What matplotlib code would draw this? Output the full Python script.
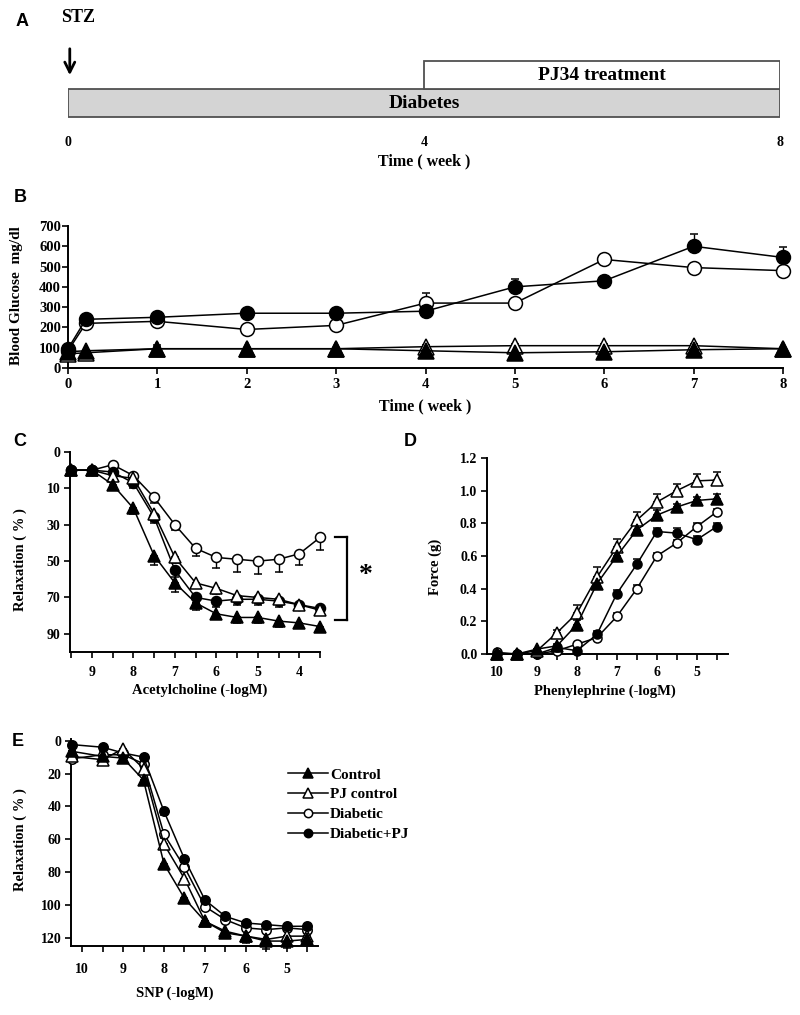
import matplotlib
matplotlib.use('Agg')
import matplotlib.pyplot as plt
import numpy as np
from matplotlib.patches import Rectangle
from matplotlib.lines import Line2D

plt.rcParams['font.family'] = ['Liberation Serif', 'DejaVu Serif']
plt.rcParams['font.weight'] = 'bold'
plt.rcParams['axes.labelweight'] = 'bold'

# ---------------- data ----------------
phase_names = ["Diabetes", "PJ34 treatment"]
phase_start = [0, 4]
phase_end = [8, 8]
timeline_ticks = [0, 4, 8]

weeks = [0, 0.2, 1, 2, 3, 4, 5, 6, 7, 8]
glu_control = [80, 85, 95, 95, 95, 85, 75, 80, 90, 95]
glu_pjcontrol = [70, 75, 95, 95, 95, 105, 110, 110, 110, 95]
glu_diabetic = [85, 220, 230, 190, 210, 320, 320, 535, 495, 480]
glu_diabpj = [95, 240, 250, 270, 270, 280, 400, 430, 600, 545]
glu_err_control = [0, 5, 20, 5, 5, 5, 5, 5, 5, 5]
glu_err_pjcontrol = [0, 5, 10, 5, 5, 10, 10, 10, 10, 5]
glu_err_diabetic = [0, 10, 15, 10, 15, 50, 20, 15, 15, 15]
glu_err_diabpj = [0, 10, 10, 10, 10, 15, 40, 15, 60, 50]

ach_dose = [9.5, 9.0, 8.5, 8.0, 7.5, 7.0, 6.5, 6.0, 5.5, 5.0, 4.5, 4.0, 3.5]
ach_control = [0, 0, 8, 21, 47, 62, 73, 79, 81, 81, 83, 84, 86]
ach_pjcontrol = [0, 0, 3, 4.5, 24, 48, 62, 65, 69, 70, 71, 74, 77]
ach_diabetic = [0, 0, -3, 3, 15, 30, 43, 48, 49, 50, 49, 46, 37]
ach_diabpj = [0, 0, 1, 7, 26, 55, 70, 72, 71, 71, 72, 74, 76]
ach_err_control = [0, 2, 2, 3, 5, 5, 4, 3, 3, 3, 3, 2, 2]
ach_err_pjcontrol = [0, 2, 2, 4, 4, 3, 3, 3, 3, 3, 2, 2, 2]
ach_err_diabetic = [0, 0, 0, 2, 3, 3, 4, 6, 7, 7, 7, 6, 7]
ach_err_diabpj = [0, 2, 2, 3, 3, 4, 3, 3, 3, 3, 3, 3, 2]
ach_yticks = [-10, 10, 30, 50, 70, 90]
ach_yticklabels = ["0", "10", "30", "50", "70", "90"]

phe_dose = [10.0, 9.5, 9.0, 8.5, 8.0, 7.5, 7.0, 6.5, 6.0, 5.5, 5.0, 4.5]
phe_control = [0, 0, 0.03, 0.05, 0.18, 0.43, 0.60, 0.76, 0.85, 0.90, 0.94, 0.95]
phe_pjcontrol = [0, 0, 0.02, 0.13, 0.25, 0.47, 0.655, 0.82, 0.93, 1.00, 1.06, 1.065]
phe_diabetic = [0.01, 0, 0, 0.02, 0.06, 0.10, 0.23, 0.40, 0.60, 0.68, 0.78, 0.87]
phe_diabpj = [0, 0, 0, 0.04, 0.02, 0.12, 0.37, 0.55, 0.75, 0.74, 0.70, 0.78]
phe_err_control = [0, 0, 0, 0.01, 0.03, 0.04, 0.04, 0.03, 0.03, 0.02, 0.02, 0.03]
phe_err_pjcontrol = [0, 0, 0, 0.02, 0.05, 0.06, 0.05, 0.05, 0.05, 0.04, 0.04, 0.05]
phe_err_diabetic = [0, 0, 0, 0, 0.01, 0.02, 0.02, 0.02, 0.02, 0.02, 0.02, 0.02]
phe_err_diabpj = [0, 0, 0, 0, 0.01, 0.02, 0.02, 0.03, 0.02, 0.03, 0.02, 0.02]

snp_dose = [10.25, 9.5, 9.0, 8.5, 8.0, 7.5, 7.0, 6.5, 6.0, 5.5, 5.0, 4.5]
snp_control = [6.5, 9.6, 10.6, 24, 75, 96, 110, 117, 119, 122, 122, 121]
snp_pjcontrol = [9.6, 11.6, 5, 17, 63, 84, 110, 116, 119, 121, 119, 119]
snp_diabetic = [11, 8.6, 8.6, 14, 57, 77, 101, 109, 114, 115, 114, 115]
snp_diabpj = [2.4, 4, 7.5, 10, 43, 72, 97, 107, 111, 112, 113, 113]
snp_err_control = [0, 2, 2, 3, 3, 3, 2, 2, 3, 3, 4, 2]
snp_err_pjcontrol = [0, 3, 2, 2, 3, 3, 2, 3, 4, 6, 3, 2]
snp_err_diabetic = [0, 2, 2, 2, 2, 2, 2, 2, 2, 2, 2, 2]
snp_err_diabpj = [0, 2, 2, 2, 2, 2, 2, 2, 2, 2, 2, 2]

group_labels = ["Control", "PJ control", "Diabetic", "Diabetic+PJ"]

# ---------------- layout helpers ----------------
W, H = 800, 1015
fig = plt.figure(figsize=(W / 100, H / 100), dpi=100)

TICK_FS = 10
LABEL_FS = 10.5


def ax_px(left, top, right, bottom):
    return fig.add_axes([left / W, 1 - bottom / H, (right - left) / W, (bottom - top) / H])


def ftext(x, y, s, **kw):
    kw.setdefault('ha', 'center')
    kw.setdefault('va', 'center')
    kw.setdefault('fontweight', 'bold')
    fig.text(x / W, 1 - y / H, s, **kw)


def letter(x, y, s):
    ftext(x, y, s, fontsize=13, family=['Liberation Sans', 'DejaVu Sans'])


def style_axes(ax, fs=TICK_FS):
    for sp in ['top', 'right']:
        ax.spines[sp].set_visible(False)
    for sp in ['left', 'bottom']:
        ax.spines[sp].set_linewidth(1.4)
    ax.tick_params(direction='out', length=4, width=1.2, labelsize=fs, pad=3)
    ax.tick_params(which='minor', direction='out', length=4, width=1.2)
    for lab in ax.get_xticklabels() + ax.get_yticklabels():
        lab.set_fontweight('bold')


styles = {
    "Control": dict(marker='^', mfc='black', mec='black'),
    "PJ control": dict(marker='^', mfc='white', mec='black'),
    "Diabetic": dict(marker='o', mfc='white', mec='black'),
    "Diabetic+PJ": dict(marker='o', mfc='black', mec='black'),
}


def series(ax, x, y, err, name, ms, up=True, z=3):
    st = styles[name]
    e = np.array(err, dtype=float)
    yerr = [np.zeros_like(e), e] if up else [e, np.zeros_like(e)]
    size = ms + 1.5 if st['marker'] == '^' else ms
    ax.errorbar(x, y, yerr=yerr, color='black', lw=1.1, elinewidth=1.0,
                capsize=3, capthick=1.0, marker=st['marker'], ms=size,
                mfc=st['mfc'], mec=st['mec'], mew=1.1, zorder=z, clip_on=False)


# ---------------- Panel A ----------------
axA = ax_px(68, 0, 780, 175)
axA.set_xlim(0, 8)
axA.set_ylim(175, 0)
axA.axis('off')
axA.add_patch(Rectangle((phase_start[0], 89), phase_end[0] - phase_start[0], 28,
                        facecolor='#d4d4d4', edgecolor='#505050', lw=1.3))
axA.add_patch(Rectangle((phase_start[1], 61), phase_end[1] - phase_start[1], 28,
                        facecolor='white', edgecolor='#505050', lw=1.3))
axA.text((phase_start[0] + phase_end[0]) / 2, 104, phase_names[0], ha='center', va='center',
         fontsize=14, fontweight='bold')
axA.text((phase_start[1] + phase_end[1]) / 2, 75, phase_names[1], ha='center', va='center',
         fontsize=14, fontweight='bold')
for t in timeline_ticks:
    axA.text(t, 142, str(t), ha='center', va='center', fontsize=10, fontweight='bold')
axA.text(4, 161, "Time ( week )", ha='center', va='center', fontsize=11.5, fontweight='bold')
axA.annotate('', xy=(0.02, 78), xytext=(0.02, 46),
             arrowprops=dict(arrowstyle='->', lw=2, mutation_scale=18, color='black'),
             annotation_clip=False)
ftext(78, 18, "STZ", fontsize=13)
letter(22, 22, "A")

# ---------------- Panel B ----------------
axB = ax_px(68, 226, 783, 368)
series(axB, weeks, glu_diabetic, glu_err_diabetic, "Diabetic", 10)
series(axB, weeks, glu_diabpj, glu_err_diabpj, "Diabetic+PJ", 10)
series(axB, weeks, glu_pjcontrol, glu_err_pjcontrol, "PJ control", 10)
series(axB, weeks, glu_control, glu_err_control, "Control", 10)
axB.set_xlim(0, 8)
axB.set_ylim(0, 700)
axB.set_xticks(range(0, 9))
axB.set_yticks(range(0, 701, 100))
style_axes(axB, fs=10.5)
axB.tick_params(axis='y', pad=1)
letter(20, 198, "B")
ftext(17, 296, "Blood Glucose  mg/dl", rotation=90, fontsize=11)
ftext(425, 406, "Time ( week )", fontsize=11.5)

# ---------------- Panel C ----------------
axC = ax_px(70, 452, 320, 652)
series(axC, ach_dose, ach_diabetic, ach_err_diabetic, "Diabetic", 7.2)
series(axC, ach_dose, ach_diabpj, ach_err_diabpj, "Diabetic+PJ", 7.2)
series(axC, ach_dose, ach_pjcontrol, ach_err_pjcontrol, "PJ control", 7.2)
series(axC, ach_dose, ach_control, ach_err_control, "Control", 7.2)
axC.set_xlim(9.53, 3.5)
axC.set_ylim(100, -10)
axC.set_yticks(ach_yticks)
axC.set_yticklabels(ach_yticklabels)
axC.set_xticks([9, 8, 7, 6, 5, 4])
axC.set_xticks(np.arange(3.5, 9.6, 0.5), minor=True)
style_axes(axC)
axC.tick_params(axis='x', pad=6)
letter(20, 442, "C")
ftext(20, 560, "Relaxation ( % )", rotation=90, fontsize=LABEL_FS)
ftext(200, 690, "Acetylcholine (-logM)", fontsize=LABEL_FS)
# significance bracket
for xs, ys in [([335, 347], [537, 537]), ([347, 347], [537, 620]), ([335, 347], [620, 620])]:
    fig.add_artist(Line2D([x / W for x in xs], [1 - y / H for y in ys], color='black', lw=1.6))
ftext(366, 575, "*", fontsize=20)

# ---------------- Panel D ----------------
axD = ax_px(487, 458, 728, 654)
series(axD, phe_dose, phe_diabetic, phe_err_diabetic, "Diabetic", 6.5)
series(axD, phe_dose, phe_diabpj, phe_err_diabpj, "Diabetic+PJ", 6.5)
series(axD, phe_dose, phe_pjcontrol, phe_err_pjcontrol, "PJ control", 6.5)
series(axD, phe_dose, phe_control, phe_err_control, "Control", 6.5)
axD.set_xlim(10.25, 4.22)
axD.set_ylim(0, 1.2)
axD.set_yticks(np.arange(0, 1.21, 0.2))
axD.set_yticklabels([f"{v:.1f}" for v in np.arange(0, 1.21, 0.2)])
axD.set_xticks([10, 9, 8, 7, 6, 5])
axD.set_xticks(np.arange(4.5, 10.1, 0.5), minor=True)
style_axes(axD)
axD.tick_params(axis='x', pad=5)
letter(410, 442, "D")
ftext(435, 567, "Force (g)", rotation=90, fontsize=LABEL_FS)
ftext(605, 691, "Phenylephrine (-logM)", fontsize=LABEL_FS)

# ---------------- Panel E ----------------
axE = ax_px(71, 739, 318, 946)
series(axE, snp_dose, snp_diabetic, snp_err_diabetic, "Diabetic", 6.8)
series(axE, snp_dose, snp_diabpj, snp_err_diabpj, "Diabetic+PJ", 6.8)
series(axE, snp_dose, snp_pjcontrol, snp_err_pjcontrol, "PJ control", 6.8)
series(axE, snp_dose, snp_control, snp_err_control, "Control", 6.8)
axE.set_xlim(10.27, 4.24)
axE.set_ylim(125, -1)
axE.set_yticks(range(0, 121, 20))
axE.set_xticks([10, 9, 8, 7, 6, 5])
axE.set_xticks(np.arange(4.5, 10.1, 0.5), minor=True)
style_axes(axE)
axE.tick_params(axis='x', pad=8)
letter(18, 742, "E")
ftext(20, 840, "Relaxation ( % )", rotation=90, fontsize=LABEL_FS)
ftext(175, 993, "SNP (-logM)", fontsize=LABEL_FS)

handles = []
for name in group_labels:
    st = styles[name]
    handles.append(Line2D([0], [0], color='black', lw=1.1, marker=st['marker'],
                          ms=7 if st['marker'] == '^' else 6,
                          mfc=st['mfc'], mec=st['mec'], mew=1.1))
fig.legend(handles, group_labels, loc='upper left', bbox_to_anchor=(288 / W, 1 - 768 / H),
           frameon=False, prop=dict(family='Liberation Serif', weight='bold', size=11),
           handlelength=2.6, handletextpad=0.15, labelspacing=0.4, borderaxespad=0, borderpad=0)

fig.savefig('out.png', dpi=100)
